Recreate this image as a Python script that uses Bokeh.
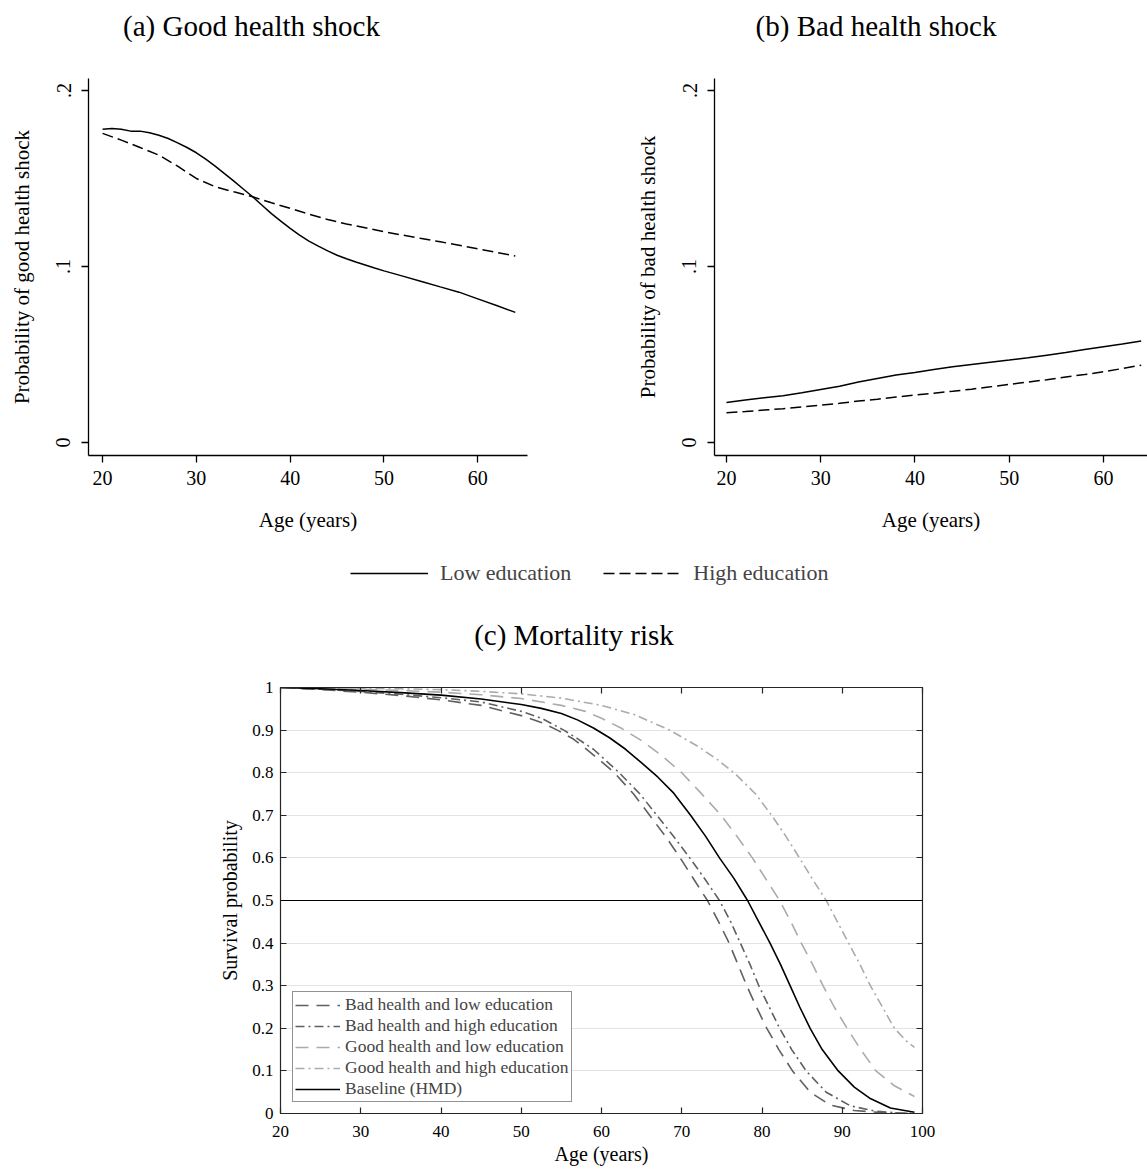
from bokeh.plotting import figure
from bokeh.models import Range1d, FixedTicker, Span, Legend, LegendItem, Title, LinearAxis
from bokeh.layouts import column, row
from bokeh.embed import file_html
from bokeh.resources import INLINE

FONT = "Liberation Serif"

# ---------------- Panel (a): good health shock ----------------
ages_good_low = [20, 21, 22, 23, 24, 25, 26, 27, 28, 29, 30, 31, 32, 33, 34, 35, 36, 37, 38, 39,
                 40, 41, 42, 43, 44, 45, 46, 47, 48, 49, 50, 52, 54, 56, 58, 60, 62, 64]
good_low_edu = [0.1780, 0.1784, 0.1780, 0.1769, 0.1769, 0.1760, 0.1746, 0.1727, 0.1702, 0.1676,
                0.1646, 0.1610, 0.1570, 0.1528, 0.1485, 0.1440, 0.1396, 0.1348, 0.1300, 0.1258,
                0.1216, 0.1178, 0.1144, 0.1116, 0.1089, 0.1064, 0.1044, 0.1025, 0.1008, 0.0991,
                0.0975, 0.0945, 0.0915, 0.0884, 0.0854, 0.0816, 0.0778, 0.0739]
ages_good_high = [20, 22, 24, 26, 28, 30, 32, 34, 36, 38, 40, 42, 44, 46, 48, 50, 52, 54, 56, 58, 60, 62, 64]
good_high_edu = [0.1756, 0.1718, 0.1676, 0.1633, 0.1570, 0.1500, 0.1453, 0.1424, 0.1396, 0.1362,
                 0.1330, 0.1297, 0.1267, 0.1241, 0.1220, 0.1197, 0.1178, 0.1159, 0.1140, 0.1121,
                 0.1100, 0.1080, 0.1059]

# ---------------- Panel (b): bad health shock ----------------
ages_bad = [20, 22, 24, 26, 28, 30, 32, 34, 36, 38, 40, 42, 44, 46, 48, 50, 52, 54, 56, 58, 60, 62, 64]
bad_low_edu = [0.0227, 0.0241, 0.0254, 0.0265, 0.0282, 0.0301, 0.0320, 0.0343, 0.0364, 0.0383,
               0.0398, 0.0415, 0.0430, 0.0443, 0.0456, 0.0468, 0.0481, 0.0496, 0.0511, 0.0528,
               0.0544, 0.0559, 0.0576]
bad_high_edu = [0.0169, 0.0176, 0.0184, 0.0192, 0.0202, 0.0212, 0.0223, 0.0235, 0.0246, 0.0258,
                0.0269, 0.0280, 0.0291, 0.0303, 0.0316, 0.0330, 0.0343, 0.0357, 0.0372, 0.0386,
                0.0402, 0.0420, 0.0439]

shock_xticks = [20, 30, 40, 50, 60]
shock_yticks = [0, 0.1, 0.2]
shock_ytick_labels = ["0", ".1", ".2"]

# ---------------- Panel (c): survival ----------------
ages_base = [20, 25, 30, 35, 40, 45, 50, 52.5, 55, 57, 59, 61, 63, 65, 67, 69, 71.1, 73, 74.7, 76.5,
             78.2, 79.6, 81.0, 82.3, 83.5, 84.7, 86.0, 87.5, 89.5, 91.5, 93.5, 96, 99]
surv_base = [1.0, 0.997, 0.993, 0.988, 0.982, 0.973, 0.960, 0.951, 0.939, 0.924, 0.905, 0.882, 0.855,
             0.823, 0.790, 0.752, 0.700, 0.650, 0.600, 0.552, 0.500, 0.450, 0.400, 0.350, 0.300,
             0.250, 0.200, 0.150, 0.100, 0.062, 0.035, 0.013, 0.003]

ages_bad_low = [20, 25, 30, 35, 40, 45, 50, 52.5, 54.5, 56.5, 58, 60, 61.6, 64, 66, 68, 69.8, 71.5,
                73.2, 74.6, 75.9, 77.0, 78.1, 79.3, 80.6, 82.1, 83.8, 86, 88.5, 91.5, 95, 99]
surv_bad_low = [1.0, 0.995, 0.989, 0.981, 0.971, 0.958, 0.934, 0.918, 0.900, 0.879, 0.857, 0.826, 0.800,
                0.750, 0.700, 0.650, 0.600, 0.550, 0.500, 0.450, 0.400, 0.350, 0.300, 0.250, 0.200,
                0.150, 0.100, 0.050, 0.020, 0.007, 0.002, 0.0]

ages_bad_high = [20, 25, 30, 35, 40, 45, 50, 52.5, 55.3, 57, 59, 62.2, 64.8, 66.9, 69, 71.0, 72.9, 74.7,
                 76.1, 77.3, 78.5, 79.6, 80.9, 82.2, 83.7, 85.5, 88, 91, 94, 97, 99]
surv_bad_high = [1.0, 0.996, 0.991, 0.984, 0.976, 0.966, 0.944, 0.928, 0.900, 0.880, 0.855, 0.800, 0.750,
                 0.700, 0.650, 0.600, 0.550, 0.500, 0.450, 0.400, 0.350, 0.300, 0.250, 0.200, 0.150,
                 0.100, 0.050, 0.018, 0.006, 0.001, 0.0]

ages_good_low_s = [20, 25, 30, 35, 40, 45, 50, 55, 58, 60, 62.6, 65, 67.5, 70, 72.4, 74.9, 76.9, 78.8,
                   80.5, 82.2, 83.6, 84.9, 86.3, 87.6, 89, 90.6, 92.3, 94.2, 96.5, 99]
surv_good_low = [1.0, 0.998, 0.996, 0.993, 0.989, 0.983, 0.974, 0.958, 0.944, 0.928, 0.903, 0.875, 0.840,
                 0.800, 0.752, 0.700, 0.650, 0.600, 0.550, 0.500, 0.450, 0.400, 0.350, 0.300, 0.250,
                 0.200, 0.150, 0.100, 0.065, 0.040]

ages_good_high_s = [20, 25, 30, 35, 40, 45, 50, 55, 60, 64, 68.5, 72, 74.5, 76.8, 79.2, 81.2, 83, 84.5,
                    86.3, 88, 89.4, 90.8, 92.2, 93.5, 95, 96.5, 98, 99]
surv_good_high = [1.0, 0.999, 0.998, 0.997, 0.995, 0.991, 0.985, 0.975, 0.958, 0.937, 0.900, 0.862, 0.830,
                  0.795, 0.750, 0.700, 0.650, 0.605, 0.550, 0.500, 0.450, 0.400, 0.350, 0.300, 0.250,
                  0.200, 0.170, 0.155]

surv_xticks = [20, 30, 40, 50, 60, 70, 80, 90, 100]
surv_yticks = [0, 0.1, 0.2, 0.3, 0.4, 0.5, 0.6, 0.7, 0.8, 0.9, 1]
surv_ytick_labels = ["0", "0.1", "0.2", "0.3", "0.4", "0.5", "0.6", "0.7", "0.8", "0.9", "1"]
median_line = 0.5

legend_labels = ["Bad health and low education", "Bad health and high education",
                 "Good health and low education", "Good health and high education", "Baseline (HMD)"]

DARK = "#606060"
LIGHT = "#ababab"
AX = "#262626"


def make_title(text, standoff):
    return Title(text=text, align="center", standoff=standoff, text_font=FONT,
                 text_font_size="29px", text_font_style="normal", text_color="black")


def header(text, width, border_l, border_r):
    h = figure(width=width, height=78, x_range=Range1d(0, 1), y_range=Range1d(0, 1),
               x_axis_type=None, y_axis_type=None, output_backend="svg", toolbar_location=None,
               min_border_left=border_l, min_border_right=border_r, min_border_top=0,
               min_border_bottom=0)
    h.outline_line_color = None
    h.grid.visible = False
    h.title = make_title(text, 15)
    return h


def shock_panel(ylabel, xr, frame_w, border_l, border_r):
    p = figure(frame_width=frame_w, frame_height=377, x_range=Range1d(*xr),
               y_range=Range1d(-0.0074, 0.2068), output_backend="svg", toolbar_location=None,
               min_border_left=border_l, min_border_right=border_r, min_border_top=0,
               min_border_bottom=93, x_axis_label="Age (years)", y_axis_label=ylabel)
    p.outline_line_color = None
    p.grid.visible = False
    p.xaxis.ticker = FixedTicker(ticks=shock_xticks)
    p.yaxis.ticker = FixedTicker(ticks=shock_yticks)
    p.yaxis.major_label_overrides = dict(zip(shock_yticks, shock_ytick_labels))
    p.yaxis.major_label_orientation = "vertical"
    for ax in (p.xaxis[0], p.yaxis[0]):
        ax.axis_line_color = "black"
        ax.axis_line_width = 1.3
        ax.major_tick_line_color = "black"
        ax.major_tick_line_width = 1.3
        ax.major_tick_out = 7
        ax.major_tick_in = 0
        ax.minor_tick_line_color = None
        ax.major_label_text_font = FONT
        ax.major_label_text_font_size = "20px"
        ax.major_label_text_color = "black"
        ax.axis_label_text_font = FONT
        ax.axis_label_text_font_size = "21px"
        ax.axis_label_text_font_style = "normal"
        ax.axis_label_text_color = "black"
    p.xaxis.major_label_standoff = 8
    p.xaxis.axis_label_standoff = 20
    p.yaxis.major_label_standoff = 11
    p.yaxis.axis_label_standoff = 20
    return p


hA = header("(a) Good health shock", 560, 0, 58)
hB = header("(b) Bad health shock", 587, 44, 0)

pA = shock_panel("Probability of good health shock", (18.5, 65.3), 439, 88, 33)
pA.line(ages_good_low, good_low_edu, line_color="black", line_width=1.5)
pA.line(ages_good_high, good_high_edu, line_color="black", line_width=1.5, line_dash="11 5")

pB = shock_panel("Probability of bad health shock", (18.73, 64.67), 433, 154, 0)
pB.line(ages_bad, bad_low_edu, line_color="black", line_width=1.5)
pB.line(ages_bad, bad_high_edu, line_color="black", line_width=1.5, line_dash="11 5")

# ---------------- shared legend for (a) and (b), plus title of (c) ----------------
pL = figure(width=1147, height=129, x_range=Range1d(0, 1), y_range=Range1d(0, 1),
            x_axis_type=None, y_axis_type=None, output_backend="svg", toolbar_location=None,
            min_border_left=0, min_border_right=0, min_border_top=0, min_border_bottom=77)
pL.outline_line_color = None
pL.grid.visible = False
# series of panel (a) lie outside this strip's ranges: only their legend glyphs show
rl1 = pL.line(ages_good_low, good_low_edu, line_color="black", line_width=1.5)
rl2 = pL.line(ages_good_high, good_high_edu, line_color="black", line_width=1.5, line_dash="11 5")
legL = Legend(items=[LegendItem(label="Low education", renderers=[rl1]),
                     LegendItem(label="High education", renderers=[rl2])],
              orientation="horizontal", location=(350, 14), glyph_width=78, glyph_height=24,
              label_height=24, label_standoff=12, spacing=32, padding=0, margin=0,
              label_text_font=FONT, label_text_font_size="22px", border_line_color=None,
              background_fill_alpha=0)
pL.add_layout(legL)
pL.add_layout(make_title("(c) Mortality risk", 33), "below")

# ---------------- Panel (c) ----------------
pC = figure(frame_width=642, frame_height=426, x_range=Range1d(20, 100), y_range=Range1d(0, 1),
            output_backend="svg", toolbar_location=None, min_border_left=280,
            min_border_right=225, min_border_top=10, min_border_bottom=58,
            x_axis_label="Age (years)", y_axis_label="Survival probability")
bottom_ax = pC.below[0]
left_ax = pC.left[0]
pC.outline_line_color = AX
pC.xgrid.visible = False
pC.ygrid.grid_line_color = "#e3e3e3"
pC.ygrid.grid_line_width = 1
bottom_ax.ticker = FixedTicker(ticks=surv_xticks)
left_ax.ticker = FixedTicker(ticks=surv_yticks)
left_ax.major_label_overrides = dict(zip(surv_yticks, surv_ytick_labels))

right_ax = LinearAxis(ticker=FixedTicker(ticks=surv_yticks),
                      major_label_overrides={t: "" for t in surv_yticks})
top_ax = LinearAxis(ticker=FixedTicker(ticks=surv_xticks),
                    major_label_overrides={t: "" for t in surv_xticks})
pC.add_layout(right_ax, "right")
pC.add_layout(top_ax, "above")

for ax in (bottom_ax, left_ax, right_ax, top_ax):
    ax.axis_line_color = AX
    ax.axis_line_width = 1.2
    ax.major_tick_line_color = AX
    ax.major_tick_line_width = 1.2
    ax.major_tick_in = 6
    ax.major_tick_out = 0
    ax.minor_tick_line_color = None
    ax.major_label_text_font = FONT
    ax.major_label_text_font_size = "17px"
    ax.major_label_text_color = "black"
    ax.axis_label_text_font = FONT
    ax.axis_label_text_font_size = "20px"
    ax.axis_label_text_font_style = "normal"
    ax.axis_label_text_color = "black"
bottom_ax.major_label_standoff = 12
bottom_ax.axis_label_standoff = 3
left_ax.major_label_standoff = 7
left_ax.axis_label_standoff = 8
right_ax.major_label_standoff = 0
top_ax.major_label_standoff = 0

pC.add_layout(Span(location=median_line, dimension="width", line_color="black", line_width=1))

r_bl = pC.line(ages_bad_low, surv_bad_low, line_color=DARK, line_width=1.6, line_dash="13 8")
r_bh = pC.line(ages_bad_high, surv_bad_high, line_color=DARK, line_width=1.6, line_dash="9 4 2 4")
r_gl = pC.line(ages_good_low_s, surv_good_low, line_color=LIGHT, line_width=1.6, line_dash="13 8")
r_gh = pC.line(ages_good_high_s, surv_good_high, line_color=LIGHT, line_width=1.6, line_dash="9 4 2 4")
r_b = pC.line(ages_base, surv_base, line_color="black", line_width=1.6)

legC = Legend(items=[LegendItem(label=lab, renderers=[r]) for lab, r in
                     zip(legend_labels, [r_bl, r_bh, r_gl, r_gh, r_b])],
              location=(12, 11), glyph_width=45, glyph_height=20, label_height=20,
              label_standoff=5, spacing=0, padding=2, margin=0,
              label_text_font=FONT, label_text_font_size="17.5px",
              border_line_color=AX, border_line_width=1, background_fill_color="white",
              background_fill_alpha=1)
pC.add_layout(legC)

layout = column(row(hA, hB), row(pA, pB), row(pL), pC)
open("out.html", "w").write(file_html(layout, INLINE))
